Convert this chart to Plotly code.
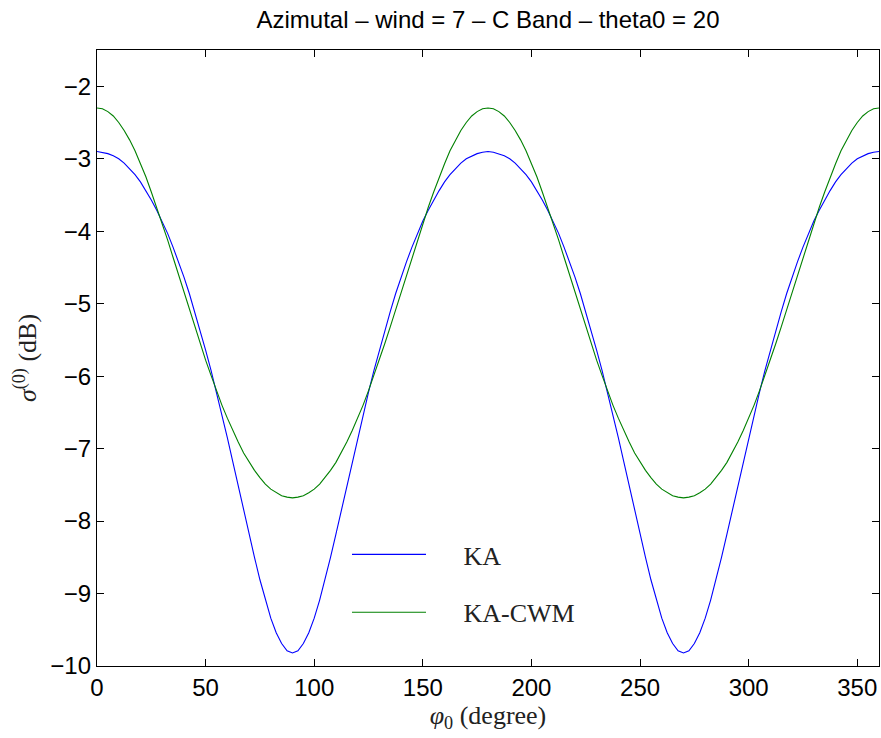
import plotly.graph_objects as go

phi = [i * 2.5 for i in range(145)]  # 0 .. 360 degrees

ka = [
    -2.90, -2.91, -2.93, -2.96, -3.00, -3.06, -3.14, -3.22, -3.32, -3.44, -3.57, -3.71,
    -3.86, -4.03, -4.22, -4.42, -4.63, -4.86, -5.11, -5.36, -5.64, -5.92, -6.22, -6.53,
    -6.85, -7.18, -7.52, -7.85, -8.18, -8.50, -8.81, -9.09, -9.34, -9.54, -9.69, -9.79,
    -9.82,
    -9.79, -9.69, -9.54, -9.34, -9.09, -8.81, -8.50, -8.18, -7.85, -7.52, -7.18, -6.85,
    -6.53, -6.22, -5.92, -5.64, -5.36, -5.11, -4.86, -4.63, -4.42, -4.22, -4.03, -3.86,
    -3.71, -3.57, -3.44, -3.32, -3.22, -3.14, -3.06, -3.00, -2.96, -2.93, -2.91, -2.90,
    -2.91, -2.93, -2.96, -3.00, -3.06, -3.14, -3.22, -3.32, -3.44, -3.57, -3.71,
    -3.86, -4.03, -4.22, -4.42, -4.63, -4.86, -5.11, -5.36, -5.64, -5.92, -6.22, -6.53,
    -6.85, -7.18, -7.52, -7.85, -8.18, -8.50, -8.81, -9.09, -9.34, -9.54, -9.69, -9.79,
    -9.82,
    -9.79, -9.69, -9.54, -9.34, -9.09, -8.81, -8.50, -8.18, -7.85, -7.52, -7.18, -6.85,
    -6.53, -6.22, -5.92, -5.64, -5.36, -5.11, -4.86, -4.63, -4.42, -4.22, -4.03, -3.86,
    -3.71, -3.57, -3.44, -3.32, -3.22, -3.14, -3.06, -3.00, -2.96, -2.93, -2.91, -2.90,
]

ka_cwm = [
    -2.30, -2.31, -2.35, -2.41, -2.50, -2.61, -2.74, -2.89, -3.07, -3.25, -3.46, -3.67,
    -3.89, -4.12, -4.36, -4.60, -4.84, -5.08, -5.32, -5.55, -5.78, -5.99, -6.20, -6.40,
    -6.58, -6.75, -6.91, -7.06, -7.19, -7.30, -7.40, -7.49, -7.56, -7.61, -7.65, -7.67,
    -7.68,
    -7.67, -7.65, -7.61, -7.56, -7.49, -7.40, -7.30, -7.19, -7.06, -6.91, -6.75, -6.58,
    -6.40, -6.20, -5.99, -5.78, -5.55, -5.32, -5.08, -4.84, -4.60, -4.36, -4.12, -3.89,
    -3.67, -3.46, -3.25, -3.07, -2.89, -2.74, -2.61, -2.50, -2.41, -2.35, -2.31, -2.30,
    -2.31, -2.35, -2.41, -2.50, -2.61, -2.74, -2.89, -3.07, -3.25, -3.46, -3.67,
    -3.89, -4.12, -4.36, -4.60, -4.84, -5.08, -5.32, -5.55, -5.78, -5.99, -6.20, -6.40,
    -6.58, -6.75, -6.91, -7.06, -7.19, -7.30, -7.40, -7.49, -7.56, -7.61, -7.65, -7.67,
    -7.68,
    -7.67, -7.65, -7.61, -7.56, -7.49, -7.40, -7.30, -7.19, -7.06, -6.91, -6.75, -6.58,
    -6.40, -6.20, -5.99, -5.78, -5.55, -5.32, -5.08, -4.84, -4.60, -4.36, -4.12, -3.89,
    -3.67, -3.46, -3.25, -3.07, -2.89, -2.74, -2.61, -2.50, -2.41, -2.35, -2.31, -2.30,
]

x_ticks = [0, 50, 100, 150, 200, 250, 300, 350]
y_ticks = [-10, -9, -8, -7, -6, -5, -4, -3, -2]

W, H = 881, 738
ml, mr, mt, mb = 97, 2, 50, 72
pw, ph = W - ml - mr, H - mt - mb

fig = go.Figure()
fig.add_trace(go.Scatter(x=phi, y=ka, mode="lines", name="\u00a0\u00a0\u00a0\u00a0\u00a0KA",
                         legendgroup="a",
                         line=dict(color="#0000ff", width=1.1)))
fig.add_trace(go.Scatter(x=phi, y=ka_cwm, mode="lines", name="\u00a0\u00a0\u00a0\u00a0\u00a0KA-CWM",
                         legendgroup="b",
                         line=dict(color="#008000", width=1.1)))

tickfont = dict(family="Liberation Sans, Arial", size=24, color="black")
fig.update_layout(
    width=W, height=H,
    margin=dict(l=ml, r=mr, t=mt, b=mb),
    paper_bgcolor="white", plot_bgcolor="white",
    title=dict(text="Azimutal \u2013 wind = 7 \u2013 C Band \u2013 theta0 = 20",
               x=(ml + pw / 2) / W, xanchor="center",
               y=1 - 20 / H, yanchor="middle",
               font=dict(family="Liberation Sans, Arial", size=24, color="black")),
    xaxis=dict(range=[0, 360], tickvals=x_ticks, ticks="inside", ticklen=7,
               tickcolor="black", showline=True, linecolor="black", linewidth=1.3,
               mirror="ticks", showgrid=False, zeroline=False, tickfont=tickfont,
               title=dict(text="<i>\u03c6</i><sub>0</sub> (degree)", standoff=2,
                          font=dict(family="Liberation Serif, Times New Roman", size=26, color="#222"))),
    yaxis=dict(range=[-10, -1.5], tickvals=y_ticks, ticks="inside", ticklen=7,
               tickcolor="black", showline=True, linecolor="black", linewidth=1.3,
               mirror="ticks", showgrid=False, zeroline=False, tickfont=tickfont,
               title=dict(text="<i>\u03c3</i><sup>(0)</sup> (dB)", standoff=6,
                          font=dict(family="Liberation Serif, Times New Roman", size=26, color="#222"))),
    legend=dict(x=(337 - ml) / pw, y=(H - mb - 531) / ph,
                xanchor="left", yanchor="top", bgcolor="white", borderwidth=0,
                itemwidth=74, indentation=10, traceorder="grouped", tracegroupgap=21,
                font=dict(family="Liberation Serif, Times New Roman", size=26, color="#222")),
    showlegend=True,
)

fig.write_html("out.html")
